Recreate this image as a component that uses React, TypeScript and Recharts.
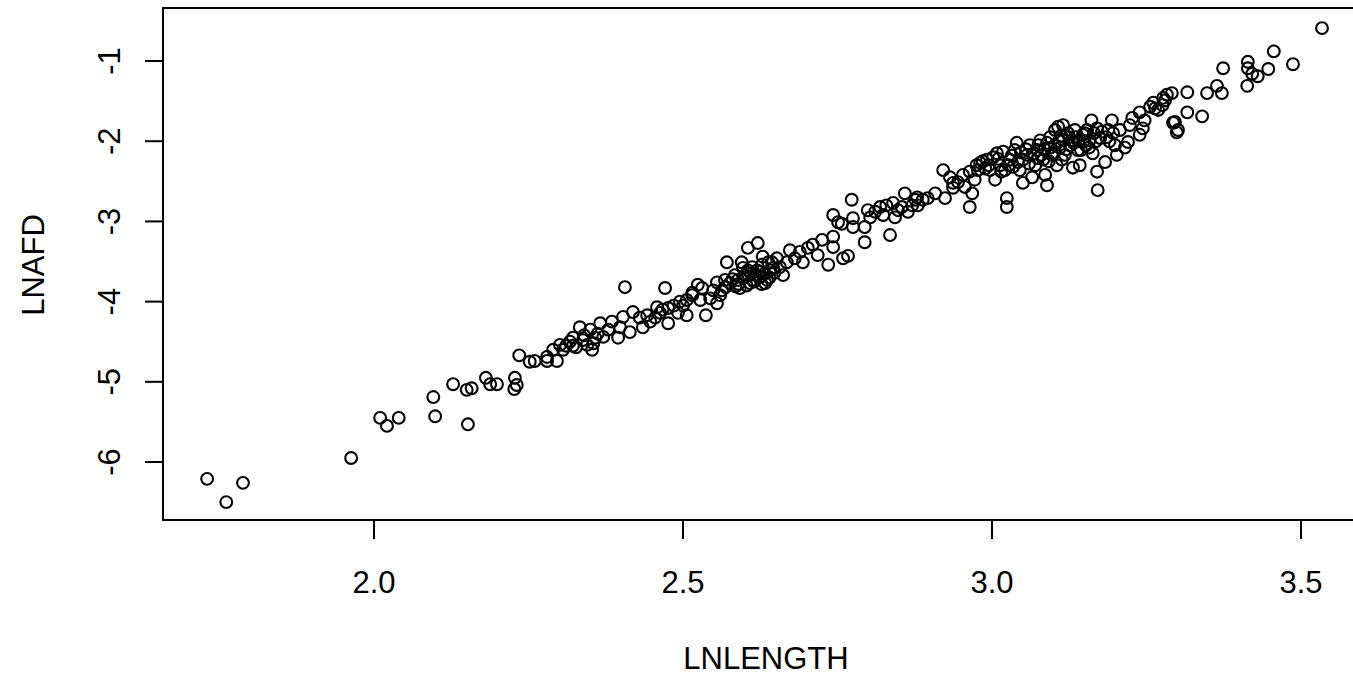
import { ReferenceArea, Scatter, ScatterChart, XAxis, YAxis } from "recharts"

// LNLENGTH / LNAFD pairs, grouped along the band
const lowerTail = [
  [1.730, -6.21], [1.761, -6.50], [1.788, -6.26], [1.963, -5.95], [2.010, -5.45],
  [2.021, -5.55], [2.040, -5.45], [2.096, -5.19], [2.099, -5.43], [2.128, -5.03],
  [2.150, -5.10], [2.158, -5.08], [2.152, -5.53], [2.181, -4.95], [2.188, -5.03],
  [2.199, -5.03], [2.228, -4.95], [2.227, -5.09], [2.231, -5.04], [2.235, -4.67],
  [2.252, -4.75], [2.260, -4.74], [2.280, -4.69], [2.280, -4.74], [2.290, -4.60],
  [2.296, -4.74],
]

const lowerBand = [
  [2.301, -4.54], [2.306, -4.60], [2.311, -4.55], [2.317, -4.50], [2.322, -4.45],
  [2.322, -4.55], [2.327, -4.57], [2.333, -4.32], [2.338, -4.48], [2.340, -4.42],
  [2.345, -4.54], [2.350, -4.35], [2.353, -4.60], [2.355, -4.52], [2.358, -4.45],
  [2.362, -4.40], [2.366, -4.27], [2.371, -4.44], [2.379, -4.35], [2.385, -4.25],
  [2.395, -4.45], [2.398, -4.32], [2.403, -4.19], [2.406, -3.82], [2.414, -4.38],
  [2.419, -4.13], [2.430, -4.20], [2.435, -4.32], [2.442, -4.17], [2.447, -4.25],
  [2.455, -4.20], [2.458, -4.07], [2.463, -4.14], [2.467, -4.10], [2.471, -3.83],
  [2.476, -4.08], [2.476, -4.27], [2.485, -4.05], [2.492, -4.14], [2.495, -4.00],
  [2.500, -4.05], [2.506, -3.98], [2.506, -4.17], [2.515, -3.92], [2.524, -3.79],
]

const middleBand = [
  [2.515, -3.89], [2.528, -3.98], [2.531, -3.83], [2.537, -4.17], [2.544, -3.96],
  [2.549, -3.86], [2.555, -3.76], [2.555, -4.02], [2.560, -3.92], [2.563, -3.86],
  [2.568, -3.73], [2.569, -3.82], [2.571, -3.51], [2.576, -3.77], [2.580, -3.72],
  [2.584, -3.67], [2.585, -3.81], [2.589, -3.73], [2.590, -3.78], [2.592, -3.83],
  [2.595, -3.51], [2.597, -3.58], [2.598, -3.70], [2.600, -3.67], [2.603, -3.80],
  [2.605, -3.33], [2.605, -3.61], [2.608, -3.77], [2.610, -3.65], [2.612, -3.57],
  [2.613, -3.73], [2.615, -3.75], [2.617, -3.67], [2.620, -3.61], [2.621, -3.27],
  [2.623, -3.63], [2.625, -3.69], [2.627, -3.78], [2.628, -3.54], [2.629, -3.44],
  [2.632, -3.65], [2.633, -3.77], [2.636, -3.73], [2.638, -3.51], [2.640, -3.70],
  [2.641, -3.61], [2.644, -3.51], [2.646, -3.58], [2.648, -3.64], [2.652, -3.46],
  [2.657, -3.57], [2.662, -3.67], [2.668, -3.51], [2.673, -3.36], [2.681, -3.46],
  [2.689, -3.38], [2.694, -3.51], [2.702, -3.33], [2.710, -3.29], [2.718, -3.42],
  [2.725, -3.23], [2.735, -3.54], [2.743, -3.19], [2.743, -3.32], [2.743, -2.92],
  [2.751, -3.01], [2.759, -3.46], [2.767, -3.43],
]

const upperBand = [
  [2.757, -3.03], [2.773, -2.73], [2.775, -2.96], [2.775, -3.07], [2.794, -3.07],
  [2.794, -3.26], [2.799, -2.86], [2.803, -2.95], [2.811, -2.88], [2.819, -2.82],
  [2.824, -2.92], [2.829, -2.80], [2.835, -3.17], [2.840, -2.77], [2.843, -2.95],
  [2.848, -2.86], [2.854, -2.82], [2.859, -2.65], [2.864, -2.88], [2.871, -2.80],
  [2.876, -2.73], [2.879, -2.70], [2.880, -2.80], [2.888, -2.73], [2.896, -2.71],
  [2.908, -2.65], [2.921, -2.36], [2.924, -2.71], [2.932, -2.45], [2.937, -2.52],
  [2.937, -2.58], [2.945, -2.51], [2.953, -2.42], [2.956, -2.57], [2.964, -2.82],
  [2.968, -2.65], [2.972, -2.48], [2.975, -2.30], [2.977, -2.36],
]

const denseCluster = [
  [2.964, -2.38], [2.981, -2.27], [2.985, -2.25], [2.989, -2.34], [2.992, -2.23],
  [2.995, -2.30], [2.997, -2.36], [3.002, -2.20], [3.005, -2.48], [3.008, -2.15],
  [3.010, -2.22], [3.013, -2.30], [3.015, -2.38], [3.018, -2.13], [3.021, -2.36],
  [3.024, -2.71], [3.024, -2.82], [3.027, -2.30], [3.029, -2.23], [3.032, -2.18],
  [3.034, -2.32], [3.037, -2.11], [3.040, -2.02], [3.042, -2.26], [3.045, -2.36],
  [3.047, -2.14], [3.050, -2.23], [3.050, -2.52], [3.055, -2.10], [3.057, -2.17],
  [3.060, -2.28], [3.061, -2.05], [3.065, -2.45], [3.068, -2.15], [3.070, -2.30],
  [3.073, -2.11], [3.074, -2.21], [3.075, -2.05], [3.078, -1.99], [3.080, -2.17],
  [3.083, -2.23], [3.085, -2.10], [3.086, -2.42], [3.089, -2.02], [3.089, -2.55],
  [3.092, -2.25], [3.094, -1.95], [3.095, -2.08], [3.097, -2.17], [3.100, -2.15],
  [3.102, -1.86], [3.102, -2.05], [3.105, -2.30], [3.107, -1.82], [3.108, -2.00],
  [3.110, -2.08], [3.112, -1.93], [3.113, -2.23], [3.115, -1.99], [3.115, -1.80],
  [3.118, -2.17], [3.120, -2.10], [3.123, -1.90], [3.125, -1.95], [3.126, -2.05],
  [3.129, -1.99], [3.131, -2.33], [3.132, -2.02], [3.134, -1.86], [3.136, -1.95],
  [3.139, -2.11], [3.140, -2.00], [3.142, -2.30], [3.144, -2.11], [3.147, -1.92],
  [3.148, -2.00], [3.150, -1.90], [3.152, -2.05], [3.154, -1.86], [3.157, -2.08],
  [3.158, -1.99], [3.161, -1.74], [3.163, -2.15], [3.165, -1.90], [3.168, -2.00],
  [3.170, -1.84], [3.170, -2.38], [3.171, -2.61], [3.175, -1.96], [3.178, -1.88],
  [3.183, -2.26], [3.185, -1.95], [3.188, -1.86], [3.190, -2.00], [3.194, -1.74],
  [3.196, -1.90], [3.199, -2.05], [3.202, -2.17],
]

const upperTail = [
  [3.207, -1.86], [3.215, -2.08], [3.220, -2.01], [3.223, -1.80], [3.227, -1.71],
  [3.239, -1.64], [3.239, -1.92], [3.244, -1.84], [3.247, -1.74], [3.256, -1.57],
  [3.261, -1.52], [3.264, -1.59], [3.269, -1.61], [3.276, -1.55], [3.277, -1.46],
  [3.280, -1.49], [3.283, -1.42], [3.291, -1.40], [3.293, -1.77], [3.296, -1.76],
  [3.299, -1.89], [3.301, -1.86], [3.316, -1.39], [3.316, -1.64], [3.340, -1.69],
  [3.348, -1.40], [3.364, -1.31], [3.372, -1.40], [3.374, -1.09], [3.413, -1.31],
  [3.414, -1.01], [3.414, -1.09], [3.421, -1.16], [3.430, -1.19], [3.447, -1.10],
  [3.456, -0.88], [3.487, -1.04], [3.534, -0.59],
]

const xTicks = [2.0, 2.5, 3.0, 3.5]
const yTicks = [-6, -5, -4, -3, -2, -1]
const xDomain = [1.6586, 3.6068]
const yDomain = [-6.723, -0.339]

const points = [...lowerTail, ...lowerBand, ...middleBand, ...upperBand, ...denseCluster, ...upperTail].map(
  ([x, y]) => ({ x, y })
)

const font = "'Liberation Sans', Arial, sans-serif"

const XTick = (props: any) => (
  <text x={props.x} y={593} textAnchor="middle" fontFamily={font} fontSize={31} fill="#000">
    {Number(props.payload.value).toFixed(1)}
  </text>
)

const YTick = (props: any) => (
  <text
    x={120}
    y={props.y}
    transform={`rotate(-90, 120, ${props.y})`}
    textAnchor="middle"
    fontFamily={font}
    fontSize={31}
    fill="#000"
  >
    {props.payload.value}
  </text>
)

const Ring = (props: any) => (
  <circle cx={props.cx} cy={props.cy} r={5.9} fill="none" stroke="#000" strokeWidth={2.1} />
)

const App = () => {
  return (
    <div
      style={{
        position: "absolute",
        left: 0,
        top: 0,
        width: 1353,
        height: 677,
        overflow: "hidden",
        background: "#fff",
      }}
    >
      <ScatterChart width={1370} height={677} margin={{ top: 8, right: 3, bottom: 0, left: 0 }}>
        <XAxis
          type="number"
          dataKey="x"
          domain={xDomain}
          ticks={xTicks}
          allowDataOverflow
          height={157}
          tickSize={19}
          stroke="#000"
          strokeWidth={2}
          tick={<XTick />}
        />
        <YAxis
          type="number"
          dataKey="y"
          domain={yDomain}
          ticks={yTicks}
          allowDataOverflow
          width={163}
          tickSize={18}
          stroke="#000"
          strokeWidth={2}
          tick={<YTick />}
        />
        <ReferenceArea y1={yDomain[0]} y2={yDomain[1]} fill="none" stroke="#000" strokeWidth={2} />
        <Scatter data={points} shape={<Ring />} isAnimationActive={false} />
        <text x={766} y={669} textAnchor="middle" fontFamily={font} fontSize={31} fill="#000">
          LNLENGTH
        </text>
        <text
          x={44}
          y={265}
          transform="rotate(-90, 44, 265)"
          textAnchor="middle"
          fontFamily={font}
          fontSize={31}
          fill="#000"
        >
          LNAFD
        </text>
      </ScatterChart>
    </div>
  )
}

export default App
